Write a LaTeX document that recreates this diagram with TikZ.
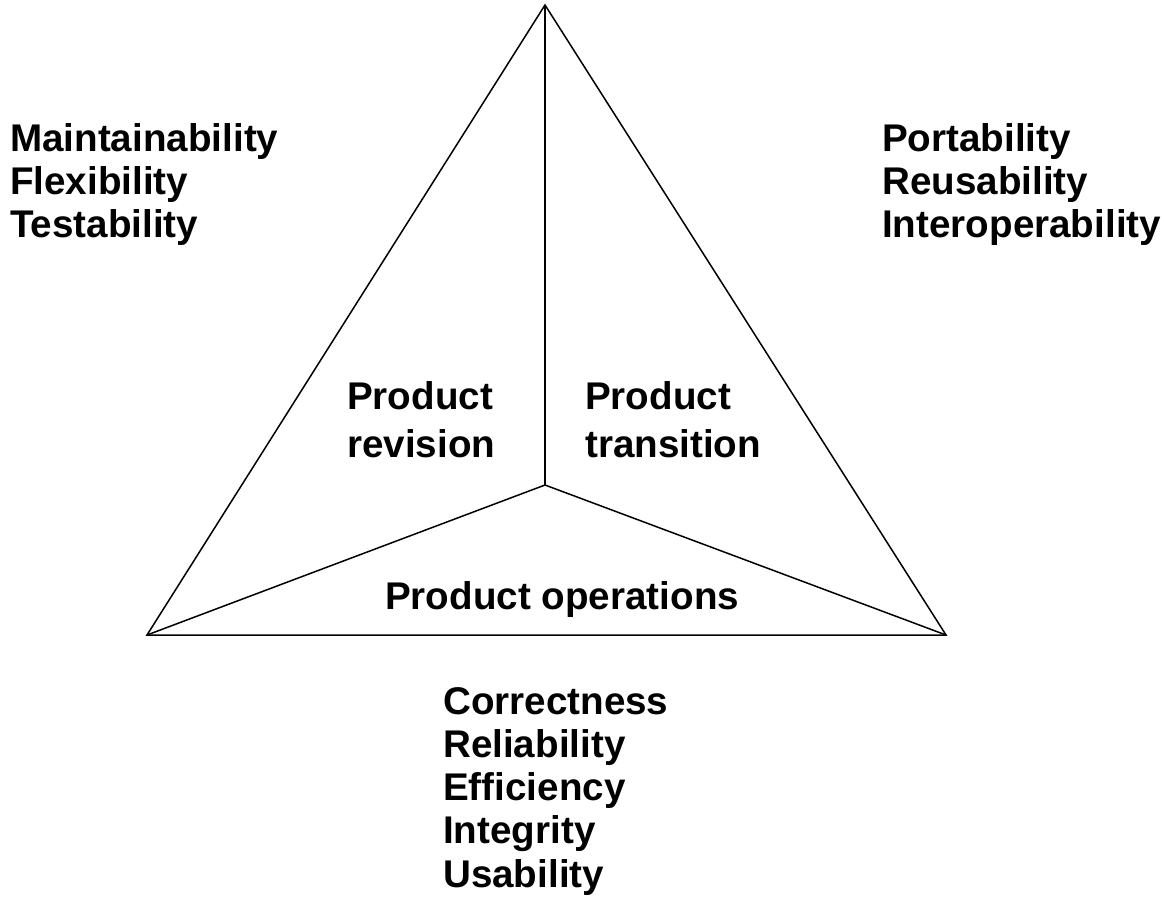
\documentclass[tikz,border=0pt]{standalone}
\usepackage{fontspec}
\setmainfont{Liberation Sans}
\begin{document}
\begin{tikzpicture}[x=1pt,y=-1pt,
  lbl/.style={anchor=base west,inner sep=0pt,font=\bfseries\fontsize{38.6}{43}\selectfont},
  edge/.style={line width=1.5pt,line join=miter}]
\useasboundingbox (0,0) rectangle (1164,899);
\coordinate (apex) at (545,5);
\coordinate (bl) at (147,635);
\coordinate (br) at (946,635);
\coordinate (c) at (545,485);
\draw[edge] (apex) -- (bl) -- (br) -- cycle;
\draw[edge] (c) -- (apex);
\draw[edge] (c) -- (bl);
\draw[edge] (c) -- (br);
% left list
\node[lbl] (m1) at (10,151) {Maintainability};
\node[lbl] (m2) at (10,194) {Flexibility};
\node[lbl] (m3) at (10,237) {Testability};
% right list
\node[lbl] (p1) at (882,151) {Portability};
\node[lbl] (p2) at (882,194) {Reusability};
\node[lbl] (p3) at (882,237) {Interoperability};
% inner
\node[lbl] (r1) at (347,409) {Product};
\node[lbl] (r2) at (347,457) {revision};
\node[lbl] (t1) at (585,409) {Product};
\node[lbl] (t2) at (585,457) {transition};
\node[lbl] (o1) at (385,609) {Product operations};
% bottom list
\node[lbl] (b1) at (443,714) {Correctness};
\node[lbl] (b2) at (443,757) {Reliability};
\node[lbl] (b3) at (443,800) {Efficiency};
\node[lbl] (b4) at (443,843) {Integrity};
\node[lbl] (b5) at (443,887) {Usability};
\end{tikzpicture}
\end{document}
